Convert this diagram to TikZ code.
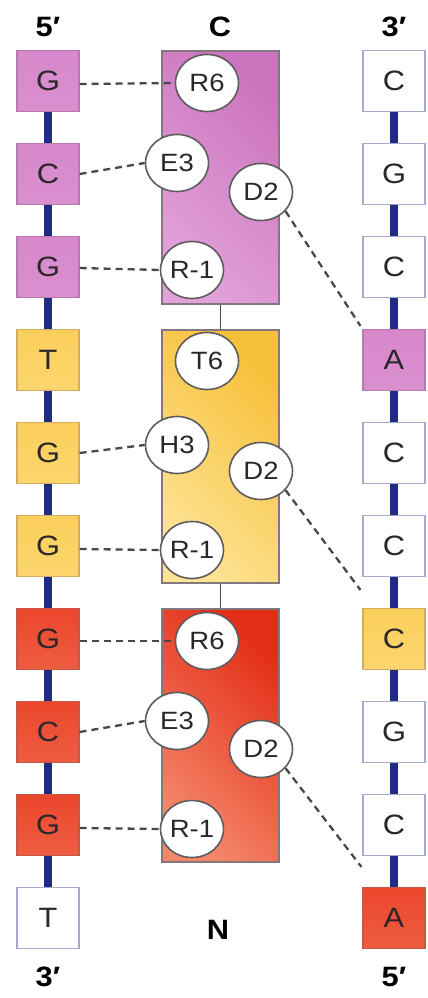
\documentclass[tikz,border=0pt]{standalone}
\usepackage{fontspec}
\setmainfont[FakeStretch=1.1]{Liberation Sans}
\usetikzlibrary{shapes.geometric,calc}

\definecolor{backbone}{HTML}{1F2C80}
\definecolor{pdark}{HTML}{CC74BE}
\definecolor{plight}{HTML}{E1A2D9}
\definecolor{pbox}{HTML}{D88BCD}
\definecolor{pedge}{HTML}{B57AAF}
\definecolor{ydark}{HTML}{F7C03A}
\definecolor{ylight}{HTML}{FDE394}
\definecolor{ybox}{HTML}{FBCF5C}
\definecolor{yedge}{HTML}{D2AE62}
\definecolor{rdark}{HTML}{E42E17}
\definecolor{rlight}{HTML}{F4876A}
\definecolor{rbox}{HTML}{EC4B30}
\definecolor{redge}{HTML}{C45A45}
\definecolor{wedge}{HTML}{A5ABD0}
\definecolor{rectedge}{HTML}{857780}
\definecolor{ink}{HTML}{2A262A}

\tikzset{
  ntbox/.style={rectangle, minimum width=62pt, minimum height=61pt, inner sep=0pt,
    line width=1.2pt, text=ink, font=\fontsize{28}{30}\selectfont},
  pnt/.style={ntbox, draw=pedge, top color=pbox!85!pdark, bottom color=pbox!80!plight},
  ynt/.style={ntbox, draw=yedge, top color=ybox, bottom color=ybox!70!ylight},
  rnt/.style={ntbox, draw=redge, top color=rbox!85!rdark, bottom color=rbox!70!rlight},
  wnt/.style={ntbox, draw=wedge, fill=white},
  fingerbox/.style={rectangle, minimum width=117pt, minimum height=253pt, inner sep=0pt,
    draw=rectedge, line width=1.2pt},
  pfinger/.style={fingerbox, top color=pdark, bottom color=plight, shading angle=-45},
  yfinger/.style={fingerbox, top color=ydark, bottom color=ylight, shading angle=-45},
  rfinger/.style={fingerbox, top color=rdark, bottom color=rlight, shading angle=-45},
  residue/.style={ellipse, minimum width=63pt, minimum height=57pt, inner sep=0pt,
    draw=ink!75, line width=1.6pt, fill=white, text=ink,
    font=\fontsize{25}{27}\selectfont},
  contact/.style={draw=ink!85, line width=2.3pt, dash pattern=on 7pt off 5pt},
  strand/.style={draw=backbone, line width=8.5pt},
  linker/.style={draw=ink!85, line width=1.8pt},
  endlabel/.style={font=\bfseries\fontsize{28}{30}\selectfont, text=black}
}

\begin{document}
\begin{tikzpicture}[x=1pt, y=-1pt]
\useasboundingbox (0,0) rectangle (428,998);

% row centres: y = 81 + 93 i
% left strand (5' to 3')
\node[pnt] (l0) at (48,81)  {G};
\node[pnt] (l1) at (48,174) {C};
\node[pnt] (l2) at (48,267) {G};
\node[ynt] (l3) at (48,360) {T};
\node[ynt] (l4) at (48,453) {G};
\node[ynt] (l5) at (48,546) {G};
\node[rnt] (l6) at (48,639) {G};
\node[rnt] (l7) at (48,732) {C};
\node[rnt] (l8) at (48,825) {G};
\node[wnt] (l9) at (48,918) {T};

% right strand (3' to 5')
\node[wnt] (r0) at (394,81)  {C};
\node[wnt] (r1) at (394,174) {G};
\node[wnt] (r2) at (394,267) {C};
\node[pnt] (r3) at (394,360) {A};
\node[wnt] (r4) at (394,453) {C};
\node[wnt] (r5) at (394,546) {C};
\node[ynt] (r6) at (394,639) {C};
\node[wnt] (r7) at (394,732) {G};
\node[wnt] (r8) at (394,825) {C};
\node[rnt] (r9) at (394,918) {A};

% sugar-phosphate backbones
\foreach \a/\b in {0/1,1/2,2/3,3/4,4/5,5/6,6/7,7/8,8/9}{
  \draw[strand] (l\a.south) -- (l\b.north);
  \draw[strand] (r\a.south) -- (r\b.north);
}

% zinc-finger domains
\node[pfinger] (f1) at (220.5,177.5) {};
\node[yfinger] (f2) at (220.5,456.5) {};
\node[rfinger] (f3) at (220.5,735.5) {};
\draw[linker] (f1.south) -- (f2.north);
\draw[linker] (f2.south) -- (f3.north);

% contact residues, finger 1
\node[residue] (a1) at (207,83)  {R6};
\node[residue] (b1) at (177,163) {E3};
\node[residue] (c1) at (261,192) {D2};
\node[residue] (d1) at (192,270) {R-1};
% finger 2
\node[residue] (a2) at (207,361) {T6};
\node[residue] (b2) at (177,445) {H3};
\node[residue] (c2) at (261,471) {D2};
\node[residue] (d2) at (192,550) {R-1};
% finger 3
\node[residue] (a3) at (207,641) {R6};
\node[residue] (b3) at (177,721) {E3};
\node[residue] (c3) at (261,749) {D2};
\node[residue] (d3) at (192,829) {R-1};

% base contacts
\draw[contact] ($(l0.east)+(0,3)$) -- (a1.west);
\draw[contact] (l1.east) -- (b1.west);
\draw[contact] ($(l2.east)+(0,1)$) -- (d1.west);
\draw[contact] (l4.east) -- (b2.west);
\draw[contact] ($(l5.east)+(0,3)$) -- (d2.west);
\draw[contact] ($(l6.east)+(0,2)$) -- (a3.west);
\draw[contact] (l7.east) -- (b3.west);
\draw[contact] ($(l8.east)+(0,3)$) -- (d3.west);
\draw[contact] (c1.-38) -- ($(r3.north west)+(-2,-3)$);
\draw[contact] (c2.-38) -- ($(r6.north west)+(-2,-18)$);
\draw[contact] (c3.-38) -- ($(r9.north west)+(-1,-20)$);

% strand ends and protein termini
\node[endlabel] (t5) at (48,27)  {5′};
\node[endlabel] (tc) at (220,27) {C};
\node[endlabel] (t3) at (394,27) {3′};
\node[endlabel] (b3e) at (48,977) {3′};
\node[endlabel] (bn) at (218,930) {N};
\node[endlabel] (b5e) at (394,977) {5′};
\end{tikzpicture}
\end{document}
